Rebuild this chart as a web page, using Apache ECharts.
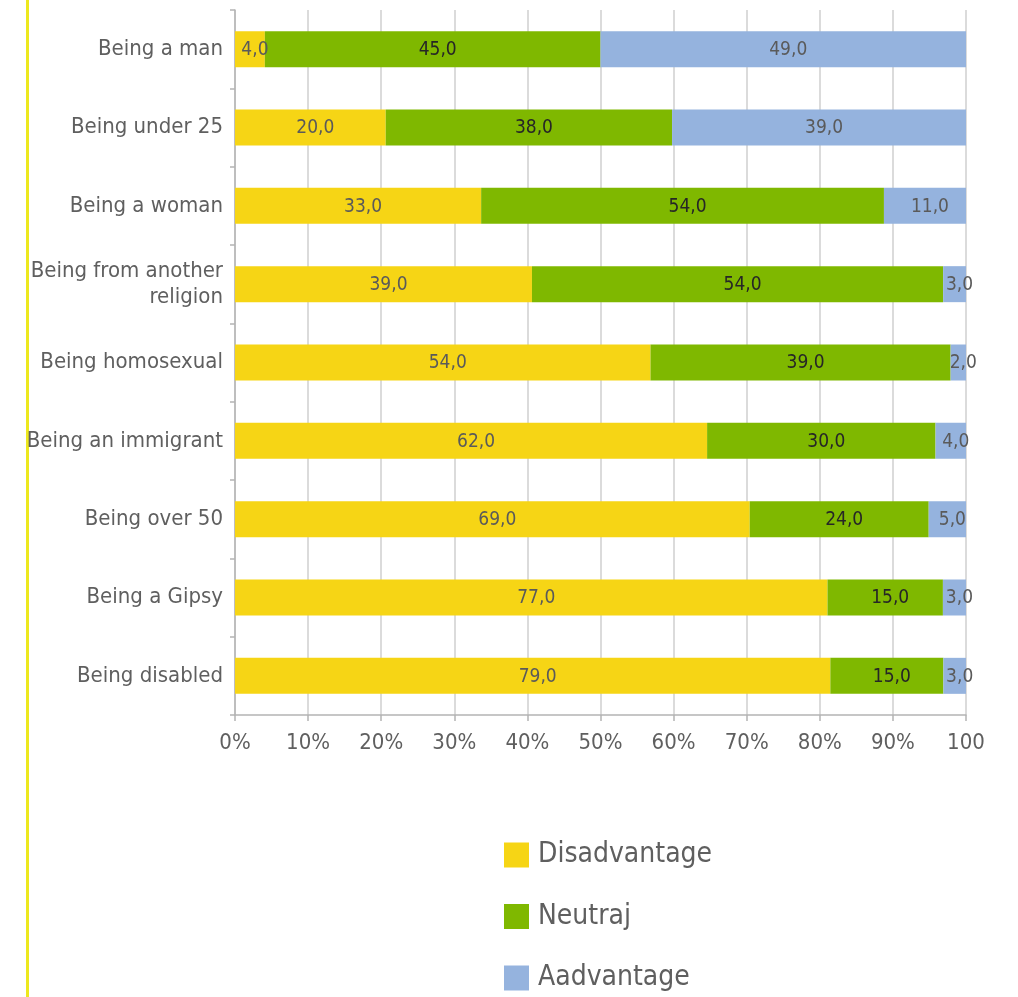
<!DOCTYPE html>
<html>
<head>
<meta charset="utf-8">
<script src="https://cdn.jsdelivr.net/npm/echarts@6/dist/echarts.min.js"></script>
<style>
  html, body { margin: 0; padding: 0; background: #fff; }
  #chart { width: 1018px; height: 997px; }
</style>
</head>
<body>
<div id="chart"></div>
<script>
// Categories, top to bottom
const categories = [
  'Being a man',
  'Being under 25',
  'Being a woman',
  'Being from another\nreligion',
  'Being homosexual',
  'Being an immigrant',
  'Being over 50',
  'Being a Gipsy',
  'Being disabled'
];

// Raw survey values for each answer
const disadvantage = [4, 20, 33, 39, 54, 62, 69, 77, 79];
const neutraj      = [45, 38, 54, 54, 39, 30, 24, 15, 15];
const aadvantage   = [49, 39, 11, 3, 2, 4, 5, 3, 3];

// X-axis tick labels
const xTickLabels = ['0%', '10%', '20%', '30%', '40%', '50%', '60%', '70%', '80%', '90%', '100'];

const seriesNames = ['Disadvantage', 'Neutraj', 'Aadvantage'];
const seriesRaw = [disadvantage, neutraj, aadvantage];
const seriesColors = ['#F6D515', '#7FB800', '#95B3DE'];
const labelColors = ['#5A5A5A', '#262626', '#5A5A5A'];

const FONT = "'DejaVu Sans Condensed', 'Liberation Sans', Arial, sans-serif";

// Row totals used to stack each row to 100 %
const totals = categories.map((_, i) => seriesRaw.reduce((s, arr) => s + arr[i], 0));

const fmt = v => v.toFixed(1).replace('.', ',');

// One legend block per series, stacked vertically
const legends = seriesNames.map((name, i) => ({
  orient: 'vertical',
  left: 504,
  top: 841 + i * 61.5,
  padding: 0,
  itemWidth: 25,
  itemHeight: 25,
  icon: 'rect',
  textStyle: { color: '#5F5F5F', fontSize: 28, lineHeight: 25, fontFamily: FONT, padding: [0, 0, 0, 4] },
  data: [name]
}));

const chart = echarts.init(document.getElementById('chart'));

chart.setOption({
  animation: false,
  textStyle: { fontFamily: FONT },
  grid: { left: 235, right: 52, top: 10, bottom: 282, containLabel: false },
  xAxis: {
    type: 'value',
    min: 0,
    max: 100,
    interval: 10,
    axisLine: { show: true, lineStyle: { color: '#B4B4B4', width: 1.5 } },
    axisTick: { show: true, length: 6, lineStyle: { color: '#B4B4B4', width: 1.5 } },
    splitLine: { show: true, lineStyle: { color: '#CFCFCF', width: 1.5 } },
    axisLabel: {
      color: '#5F5F5F',
      fontSize: 22,
      fontFamily: FONT,
      margin: 17,
      formatter: v => xTickLabels[Math.round(v / 10)]
    }
  },
  yAxis: {
    type: 'category',
    inverse: true,
    data: categories,
    axisLine: { show: true, lineStyle: { color: '#B4B4B4', width: 1.5 } },
    axisTick: { show: true, length: 5, lineStyle: { color: '#B4B4B4', width: 1.5 } },
    axisLabel: {
      color: '#5F5F5F',
      fontSize: 22,
      fontFamily: FONT,
      margin: 12,
      lineHeight: 26,
      align: 'right'
    }
  },
  legend: legends,
  graphic: [{
    type: 'rect',
    shape: { x: 26, y: 0, width: 3, height: 997 },
    style: { fill: '#EDE81E' },
    silent: true
  }],
  series: seriesRaw.map((arr, si) => ({
    name: seriesNames[si],
    type: 'bar',
    stack: 'total',
    barWidth: 36,
    itemStyle: { color: seriesColors[si] },
    label: {
      show: true,
      position: 'inside',
      offset: [5, 1],
      color: labelColors[si],
      fontSize: 19,
      fontFamily: FONT,
      formatter: p => fmt(arr[p.dataIndex])
    },
    data: arr.map((v, i) => v / totals[i] * 100)
  }))
});
</script>
</body>
</html>
